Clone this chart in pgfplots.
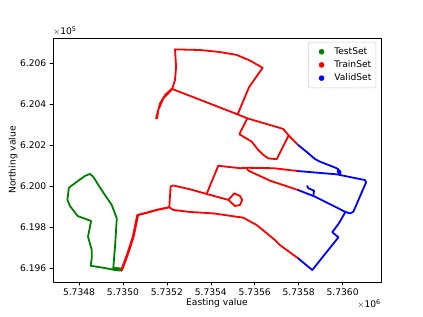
\documentclass[border=0pt]{standalone}
\usepackage{pgfplots}
\pgfplotsset{compat=1.18}
\usepackage{fontspec}
\setmainfont{DejaVu Sans}
\definecolor{mgreen}{RGB}{0,128,0}
\newcommand{\fs}{\fontsize{9.17}{11}\selectfont}
\pgfplotsset{myleg/.style={only marks,mark=*,mark size=2.5bp,color=#1,
  legend image code/.code={\path (0bp,0bp) (21bp,0bp);\draw[mark repeat=2,mark phase=2,##1] plot coordinates {(0bp,0bp)(10.5bp,0bp)(21bp,0bp)};}}}
\begin{document}
\begin{tikzpicture}[x=1bp,y=1bp]
\path[use as bounding box] (0,0) rectangle (423,317);
\begin{axis}[
  at={(53bp,35bp)}, anchor=south west,
  scale only axis, width=328bp, height=244bp,
  xmin=5734681.6, xmax=5736174.9, ymin=619531.5, ymax=620724.7,
  scaled x ticks=false, scaled y ticks=false,
  xtick={5734800,5735000,5735200,5735400,5735600,5735800,5736000},
  xticklabels={5.7348,5.7350,5.7352,5.7354,5.7356,5.7358,5.7360},
  ytick={619600,619800,620000,620200,620400,620600},
  yticklabels={6.196,6.198,6.200,6.202,6.204,6.206},
  tick align=outside, tick pos=left,
  major tick length=3.2bp,
  every tick/.style={black,line width=0.5bp},
  axis line style={line width=0.55bp},
  tick label style={font=\fs},
  label style={font=\fs},
  xlabel={Easting value}, ylabel={Northing value},
  xlabel style={at={(axis description cs:0.5,0)},anchor=north,yshift=-13.5bp},
  ylabel style={at={(axis description cs:0,0.5)},anchor=south,yshift=32bp},
  legend cell align=left,
  legend style={font=\fs, at={(0.985,0.984)}, anchor=north east,
    draw=black!18, rounded corners=1.5bp, line width=0.5bp,
    row sep=0.8bp, inner xsep=2.5bp, inner ysep=3.5bp},
  line cap=round, line join=round,
  clip=true,
]
\addplot[mgreen,line width=1.8bp,forget plot] coordinates {
(5734956,619598)(5734965,619721)(5734972,619843)(5734949,619908)(5734918,619957)
(5734888,620006)(5734865,620046)(5734850,620060)(5734827,620050)(5734797,620027)
(5734754,619993)(5734747,619933)(5734759,619903)(5734794,619854)(5734855,619830)
(5734847,619786)(5734841,619753)(5734858,619688)(5734858,619647)(5734853,619611)
(5734911,619601)(5734964,619590)(5734994,619587)(5734987,619598)(5734956,619601)};
% thick red start
\addplot[red,line width=2.6bp,forget plot] coordinates {
(5734994,619590)(5735020,619664)(5735047,619753)(5735067,619859)};
\addplot[red,line width=2.1bp,forget plot] coordinates {
(5735067,619859)(5735108,619870)(5735154,619884)(5735211,619897)};
% upper branch
\addplot[red,line width=1.8bp,forget plot] coordinates {
(5735211,619897)(5735217,619998)(5735227,620004)(5735305,619985)(5735381,619962)(5735480,619933)
(5735507,619965)(5735533,619952)(5735543,619933)(5735533,619908)(5735510,619903)(5735480,619933)};
\addplot[red,line width=1.8bp,forget plot] coordinates {
(5735381,619962)(5735434,620100)(5735533,620088)(5735563,620090)(5735685,620088)(5735797,620074)};
\addplot[red,line width=1.8bp,forget plot] coordinates {
(5735563,620090)(5735571,620076)(5735670,620027)(5735798,619981)};
% lower branch
\addplot[red,line width=1.8bp,forget plot] coordinates {
(5735211,619897)(5735229,619884)(5735305,619874)(5735411,619867)(5735548,619846)
(5735609,619810)(5735692,619737)(5735715,619712)(5735798,619647)};
% top
\addplot[red,line width=1.8bp,forget plot] coordinates {
(5735225,620475)(5735184,620430)(5735161,620373)(5735156,620332)(5735151,620332)
(5735169,620405)(5735192,620446)(5735225,620479)(5735237,620519)(5735242,620584)
(5735237,620669)(5735351,620666)(5735442,620656)(5735518,620642)(5735579,620614)(5735636,620579)
(5735574,620484)(5735523,620353)};
\addplot[red,line width=1.8bp,forget plot] coordinates {
(5735225,620475)(5735518,620353)(5735566,620332)(5735670,620299)(5735730,620280)(5735753,620250)(5735798,620201)};
\addplot[red,line width=1.8bp,forget plot] coordinates {
(5735566,620332)(5735530,620254)(5735586,620218)(5735616,620177)(5735639,620153)(5735662,620136)(5735700,620132)(5735753,620245)};
% blue
\addplot[blue,line width=1.8bp,forget plot] coordinates {
(5735798,620201)(5735844,620161)(5735874,620133)(5735897,620120)(5735935,620104)(5735973,620088)(5735991,620071)
(5735988,620055)(5735978,620071)(5735981,620084)};
\addplot[blue,line width=1.8bp,forget plot] coordinates {
(5735797,620074)(5735973,620058)(5736102,620030)(5736107,620019)(5736049,619875)
(5736034,619867)(5736011,619875)(5735874,619949)(5735798,619981)};
\addplot[blue,line width=1.8bp,forget plot] coordinates {
(5735867,619952)(5735870,619978)(5735844,619990)(5735839,620001)};
\addplot[blue,line width=1.8bp,forget plot] coordinates {
(5735798,619647)(5735862,619590)(5735981,619750)(5735953,619775)(5735981,619815)(5736011,619870)};
\addlegendimage{myleg=mgreen}
\addlegendentry{TestSet}
\addlegendimage{myleg=red}
\addlegendentry{TrainSet}
\addlegendimage{myleg=blue}
\addlegendentry{ValidSet}
\end{axis}
\node[font=\fs,anchor=south west,inner sep=0pt] at (53,281) {$\times$10\textsuperscript{5}};
\node[font=\fs,anchor=south east,inner sep=0pt] at (381,8) {$\times$10\textsuperscript{6}};
\end{tikzpicture}
\end{document}
